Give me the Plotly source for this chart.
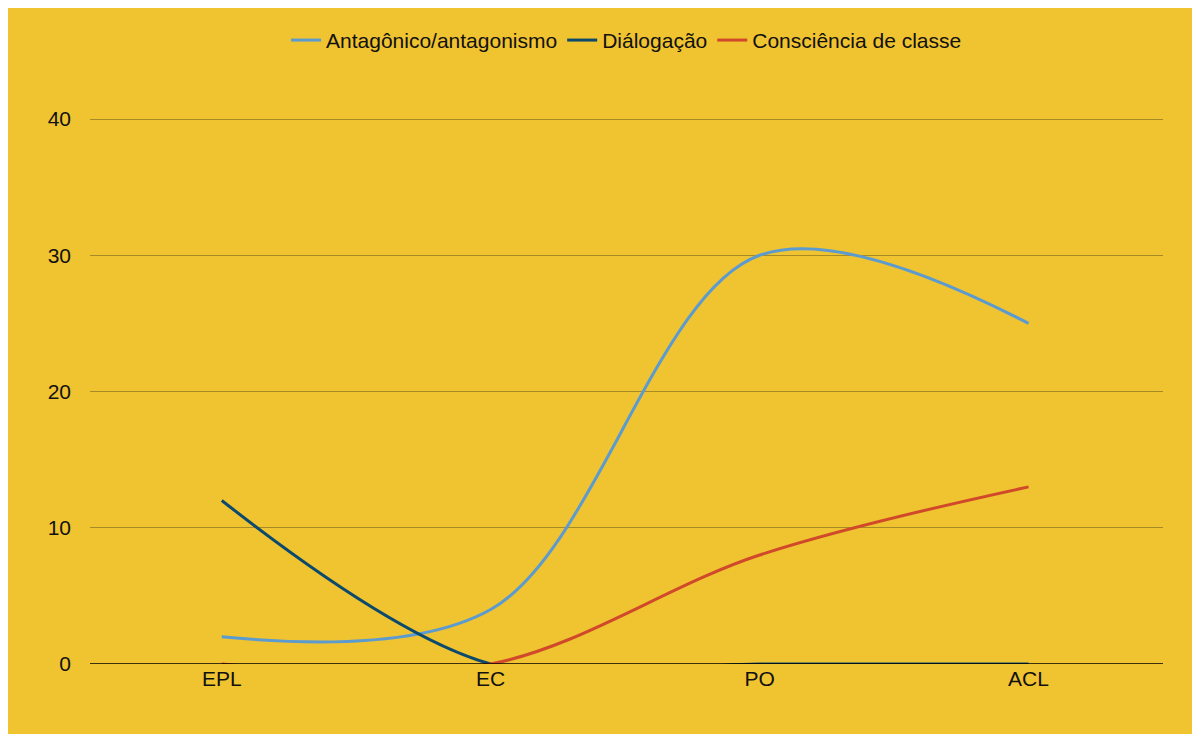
import plotly.graph_objects as go

categories = ["EPL", "EC", "PO", "ACL"]
antagonico = [2, 4, 30, 25]
dialogacao = [12, 0, 0, 0]
consciencia = [0, 0, 8, 13]

bg = "#f0c330"
fig = go.Figure()
for name, vals, color in [
    ("Antagônico/antagonismo", antagonico, "#5b9bd0"),
    ("Diálogação", dialogacao, "#0b4a6c"),
    ("Consciência de classe", consciencia, "#d0492a"),
]:
    fig.add_trace(go.Scatter(x=list(range(len(categories))), y=vals, name=name, mode="lines",
                             line=dict(color=color, width=3, shape="spline", smoothing=1)))

fig.update_layout(
    width=1184, height=726, paper_bgcolor=bg, plot_bgcolor=bg,
    font=dict(family="Arial, Liberation Sans", size=21, color="#111"),
    margin=dict(l=82, r=29, t=93, b=70),
    legend=dict(orientation="h", x=0.5, xanchor="center", y=1.14, yanchor="middle",
                font=dict(size=21), itemwidth=30),
    xaxis=dict(tickvals=list(range(len(categories))), ticktext=categories,
               range=[-0.49, 3.5], showgrid=False, zeroline=False),
    yaxis=dict(range=[0, 40.15], tickvals=[0, 10, 20, 30, 40], gridcolor="#a88a25",
               zeroline=False, showline=False, ticklabelstandoff=18),
)
fig.add_hline(y=0, line=dict(color="#000", width=1.5))
fig.write_html("out.html")
